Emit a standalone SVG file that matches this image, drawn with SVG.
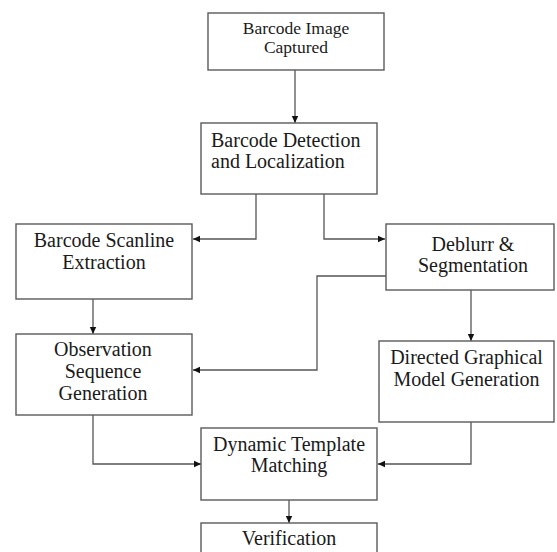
<svg xmlns="http://www.w3.org/2000/svg" width="557" height="552" viewBox="0 0 557 552">
<style>
.box{fill:#fff;stroke:#5a5a5a;stroke-width:1.4}
.t{font-family:"Liberation Serif","Times New Roman",serif;font-size:20px;fill:#1a1a1a;text-anchor:middle}
.s{font-size:17.5px}
.l{text-anchor:start}
.c{fill:none;stroke:#555;stroke-width:1.3}
</style>
<defs>
<marker id="ah" markerUnits="userSpaceOnUse" markerWidth="8" markerHeight="8" refX="7" refY="4" orient="auto">
<path d="M0,0.8 L7,4 L0,7.2 Z" fill="#111"/>
</marker>
</defs>
<rect width="557" height="552" fill="#fff"/>
<g id="connectors">
<path class="c" d="M295,70 V123" marker-end="url(#ah)"/>
<path class="c" d="M256,194 V239 H193" marker-end="url(#ah)"/>
<path class="c" d="M324,194 V239 H385" marker-end="url(#ah)"/>
<path class="c" d="M93,299 V334" marker-end="url(#ah)"/>
<path class="c" d="M386,276 H317 V370 H193" marker-end="url(#ah)"/>
<path class="c" d="M471,290 V341" marker-end="url(#ah)"/>
<path class="c" d="M93,415 V464 H201" marker-end="url(#ah)"/>
<path class="c" d="M471,422 V464 H378" marker-end="url(#ah)"/>
<path class="c" d="M289,500 V523" marker-end="url(#ah)"/>
</g>
<g id="n1">
<rect class="box" x="208" y="13" width="176" height="57"/>
<text class="t s" x="296" y="34">Barcode Image</text>
<text class="t s" x="296" y="53">Captured</text>
</g>
<g id="n2">
<rect class="box" x="201" y="123" width="176" height="71"/>
<text class="t l" x="211" y="147">Barcode Detection</text>
<text class="t l" x="211" y="168">and Localization</text>
</g>
<g id="n3">
<rect class="box" x="16" y="224" width="176" height="75"/>
<text class="t" x="104" y="247">Barcode Scanline</text>
<text class="t" x="104" y="269">Extraction</text>
</g>
<g id="n4">
<rect class="box" x="386" y="224" width="168" height="66"/>
<text class="t" x="473" y="251">Deblurr &amp;</text>
<text class="t" x="473" y="272">Segmentation</text>
</g>
<g id="n5">
<rect class="box" x="16" y="334" width="176" height="81"/>
<text class="t" x="103" y="356">Observation</text>
<text class="t" x="103" y="378">Sequence</text>
<text class="t" x="103" y="400">Generation</text>
</g>
<g id="n6">
<rect class="box" x="379" y="341" width="175" height="81"/>
<text class="t" x="466.5" y="364">Directed Graphical</text>
<text class="t" x="466.5" y="386">Model Generation</text>
</g>
<g id="n7">
<rect class="box" x="201" y="428" width="176" height="72"/>
<text class="t" x="289" y="451">Dynamic Template</text>
<text class="t" x="289" y="472">Matching</text>
</g>
<g id="n8">
<rect class="box" x="201" y="523" width="176" height="40"/>
<text class="t" x="289" y="545">Verification</text>
</g>
</svg>
